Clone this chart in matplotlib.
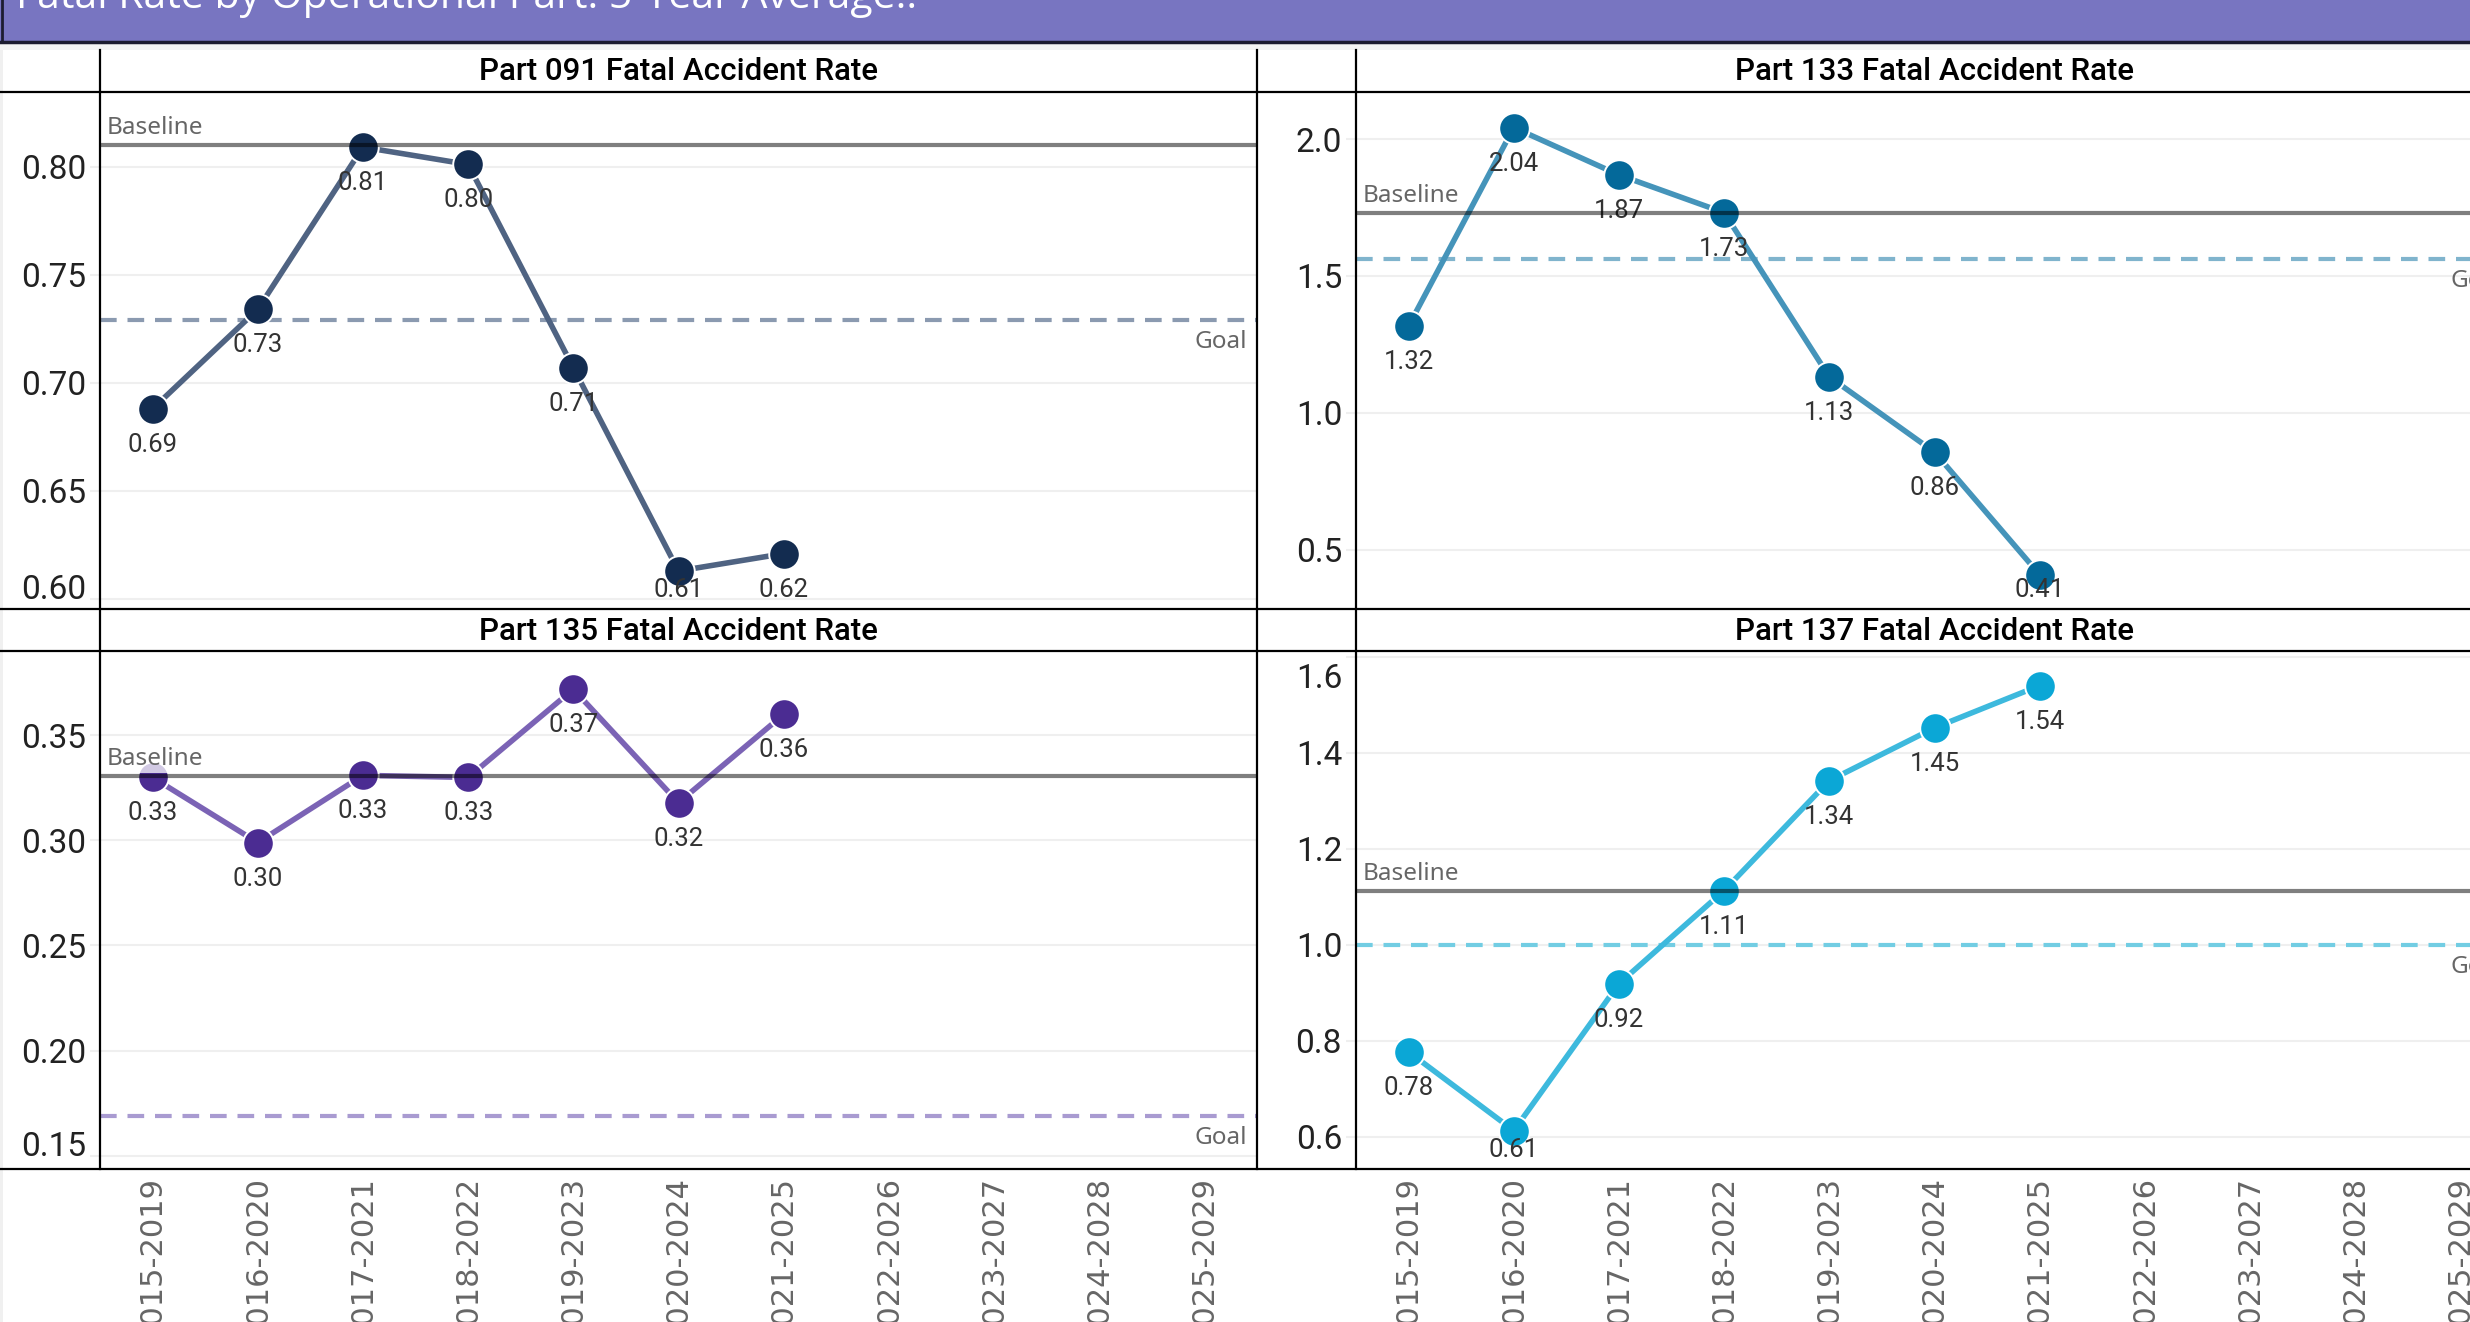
import numpy as np
import matplotlib
matplotlib.use("Agg")
import matplotlib.pyplot as plt
import matplotlib.transforms as mtransforms
from matplotlib.lines import Line2D
from matplotlib.patches import Rectangle

# ---- data ----
periods = ['2015-2019', '2016-2020', '2017-2021', '2018-2022', '2019-2023', '2020-2024',
           '2021-2025', '2022-2026', '2023-2027', '2024-2028', '2025-2029']

part091 = [0.688, 0.734, 0.809, 0.801, 0.707, 0.613, 0.621]
part133 = [1.317, 2.042, 1.869, 1.731, 1.131, 0.856, 0.408]
part135 = [0.330, 0.299, 0.331, 0.330, 0.372, 0.318, 0.360]
part137 = [0.777, 0.613, 0.919, 1.113, 1.342, 1.452, 1.540]

baselines = [0.810, 1.730, 0.3305, 1.113]
goals = [0.729, 1.560, 0.169, 1.000]

titles = ['Part 091 Fatal Accident Rate', 'Part 133 Fatal Accident Rate',
          'Part 135 Fatal Accident Rate', 'Part 137 Fatal Accident Rate']

yticks = [[0.60, 0.65, 0.70, 0.75, 0.80], [0.5, 1.0, 1.5, 2.0],
          [0.15, 0.20, 0.25, 0.30, 0.35], [0.6, 0.8, 1.0, 1.2, 1.4, 1.6]]
ylims = [(0.5954, 0.8345), (0.2826, 2.172), (0.1436, 0.3902), (0.533, 1.612)]
tick_fmt = ['{:.2f}', '{:.1f}', '{:.2f}', '{:.1f}']

line_colors = ['#4F6382', '#4594BA', '#7B63B5', '#3DB9DD']
marker_colors = ['#132C50', '#04699A', '#4B2C92', '#0BA7D6']
goal_colors = ['#8B9AB0', '#80B4CD', '#A99BD1', '#72CDE3']

series = [part091, part133, part135, part137]

# ---- layout (pixels) ----
W, H = 2470, 1322
DPI = 100
fig = plt.figure(figsize=(W / DPI, H / DPI), dpi=DPI, facecolor='white')


def fx(x):
    return x / W


def fy(y):
    return 1 - y / H


def box(x0, y0, x1, y1):
    return [fx(x0), fy(y1), (x1 - x0) / W, (y1 - y0) / H]


panes = [(100, 92, 1257, 609), (1356, 92, 2513, 609),
         (100, 651, 1257, 1169), (1356, 651, 2513, 1169)]

# title bar
fig.add_artist(Rectangle((0, fy(50)), 1, 8 / H, transform=fig.transFigure,
                         facecolor='#f4f4f4', edgecolor='none', zorder=0))
fig.add_artist(Rectangle((0, fy(42)), 1, 42 / H, transform=fig.transFigure,
                         facecolor='#7875C1', edgecolor='none', zorder=1))
fig.add_artist(Line2D([0, 1], [fy(41.5), fy(41.5)], transform=fig.transFigure,
                      color='#1c1c30', lw=2.5, zorder=2))
fig.add_artist(Line2D([fx(1.5), fx(1.5)], [1, fy(42)], transform=fig.transFigure,
                      color='#1c1c30', lw=2, zorder=2))
fig.text(fx(16), fy(8), 'Fatal Rate by Operational Part: 5-Year Average..',
         color='white', fontsize=29.5, family='Open Sans', va='baseline', ha='left')
fig.add_artist(Rectangle((0, 0), 3 / W, fy(50), transform=fig.transFigure,
                         facecolor='#f0f0f0', edgecolor='none', zorder=0))

x = np.arange(len(periods))

for k, (x0, y0, x1, y1) in enumerate(panes):
    ax = fig.add_axes(box(x0, y0, x1, y1))
    vals = series[k]
    xs = x[:len(vals)]

    ax.set_xlim(-0.5, len(periods) - 0.5)
    ax.set_ylim(*ylims[k])
    for s in ax.spines.values():
        s.set_visible(False)
    ax.grid(axis='y', color='#efefef', lw=1.5, zorder=0)
    ax.set_axisbelow(True)

    ax.set_yticks(yticks[k])
    ax.set_yticklabels([tick_fmt[k].format(t) for t in yticks[k]],
                       family='Roboto', fontsize=24, color='#222222')
    ax.tick_params(axis='y', length=7, width=1.5, color='#efefef', pad=3)

    # keep edge tick labels inside the pane
    ylo, yhi = ylims[k]
    span_px = y1 - y0
    for t, lbl in zip(yticks[k], ax.get_yticklabels()):
        d_bot = (t - ylo) / (yhi - ylo) * span_px
        d_top = span_px - d_bot
        if d_bot < 16:
            lbl.set_va('baseline')
        elif d_top < 16:
            lbl.set_va('top')
            lbl.set_transform(lbl.get_transform() +
                              mtransforms.ScaledTranslation(0, -6 / DPI, fig.dpi_scale_trans))

    ax.set_xticks(x)
    if k >= 2:
        ax.set_xticklabels(periods, rotation=90, family='DejaVu Sans', fontsize=22,
                           color='#666666', va='top', ha='center')
        ax.tick_params(axis='x', length=0, pad=5)
    else:
        ax.set_xticklabels([])
        ax.tick_params(axis='x', length=0)

    # goal and baseline
    ax.axhline(goals[k], color=goal_colors[k], lw=3, dashes=(4, 2.6), zorder=2)
    ax.axhline(baselines[k], color='black', alpha=0.5, lw=3, zorder=6)
    ax.annotate('Baseline', xy=(0, baselines[k]), xycoords=ax.get_yaxis_transform(),
                xytext=(7, 5), textcoords='offset pixels', ha='left', va='bottom',
                family='Noto Sans', fontsize=17.5, color='#666666', zorder=7,
                bbox=dict(boxstyle='square,pad=0.05', fc='white', ec='none', alpha=0.75))
    ax.annotate('Goal', xy=(1, goals[k]), xycoords=ax.get_yaxis_transform(),
                xytext=(-10, -10), textcoords='offset pixels', ha='right', va='top',
                family='Noto Sans', fontsize=17.5, color='#666666', zorder=7)

    # series
    ax.plot(xs, vals, color=line_colors[k], lw=4, zorder=3, solid_capstyle='round')
    ax.plot(xs, vals, 'o', ms=22, mfc=marker_colors[k], mec='white', mew=1.4, zorder=4)

    bottom_px = ax.transAxes.transform((0, 0))[1]
    for xi, v in zip(xs, vals):
        py = ax.transData.transform((xi, v))[1]
        off = -36
        if py + off < bottom_px + 19:
            off = bottom_px + 19 - py
        ax.annotate('{:.2f}'.format(v), xy=(xi, v), xytext=(0, off), textcoords='offset pixels',
                    ha='center', va='center', family='Roboto',
                    fontsize=18.5, color='#333333', zorder=5)

    # pane header
    fig.text(fx((x0 + x1) / 2), fy(y0 - 20), titles[k], ha='center', va='center',
             family='Roboto', fontweight='medium', fontsize=22.5, color='black')

# pane divider lines
lw_div = 1.6
for yy in [92, 609, 651, 1169]:
    fig.add_artist(Line2D([0, 1], [fy(yy), fy(yy)], transform=fig.transFigure,
                          color='black', lw=lw_div, zorder=10))
for xx in [100, 1257, 1356]:
    fig.add_artist(Line2D([fx(xx), fx(xx)], [fy(50), fy(1169)], transform=fig.transFigure,
                          color='black', lw=lw_div, zorder=10))

fig.savefig('out.png', dpi=DPI, facecolor='white')
